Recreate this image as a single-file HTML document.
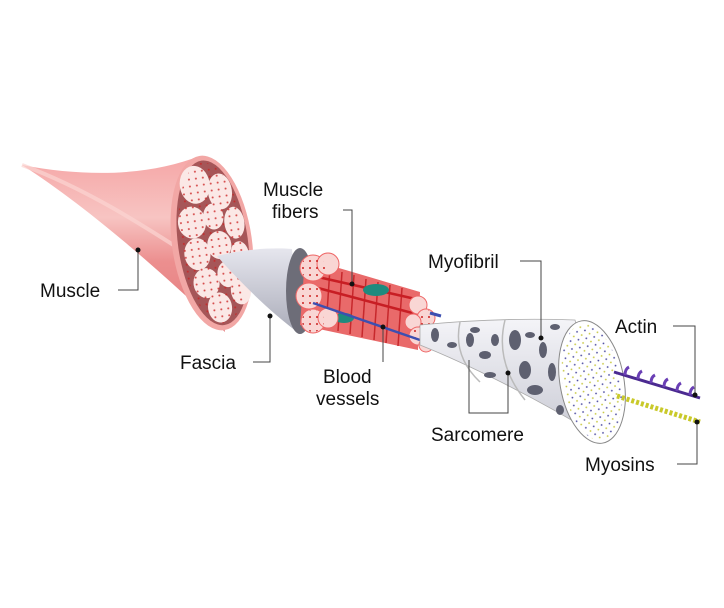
<!DOCTYPE html>
<html><head><meta charset="utf-8"><style>
html,body{margin:0;padding:0;background:#fff}
svg{display:block}
text{font-family:"Liberation Sans",sans-serif;font-size:19px;fill:#111}
</style></head><body>
<svg width="724" height="608" viewBox="0 0 724 608" xmlns="http://www.w3.org/2000/svg">
<defs>
<linearGradient id="mg" x1="0" y1="0" x2="0" y2="1">
<stop offset="0" stop-color="#f6a6a6"/><stop offset="0.35" stop-color="#f7c4c2"/><stop offset="0.6" stop-color="#ec8f8f"/><stop offset="1" stop-color="#e27b7c"/></linearGradient>
<linearGradient id="fg" x1="0" y1="0" x2="0" y2="1">
<stop offset="0" stop-color="#e6e6ee"/><stop offset="1" stop-color="#a9abb8"/></linearGradient>
<linearGradient id="cg" x1="0" y1="0" x2="0" y2="1">
<stop offset="0" stop-color="#f4f4f8"/><stop offset="1" stop-color="#c8c9d3"/></linearGradient>
<pattern id="dots" width="7" height="7" patternUnits="userSpaceOnUse"><circle cx="2" cy="2" r="1" fill="#c22"/></pattern>
<pattern id="md" width="8" height="8" patternUnits="userSpaceOnUse"><circle cx="2" cy="2" r="0.9" fill="#4a4aa0"/><circle cx="6" cy="6" r="0.9" fill="#c8c840"/></pattern>
</defs>

<!-- Muscle -->
<path d="M22,165 C90,178 150,175 200,156 L225,332 C180,290 100,215 22,165 Z" fill="url(#mg)"/>
<path d="M22,165 C90,190 150,230 200,262" stroke="#fbd4d2" stroke-width="4" fill="none" opacity="0.7"/>
<g transform="rotate(-8 212 243)">
<ellipse cx="212" cy="243" rx="40" ry="88" fill="#f2a7a5"/>
<ellipse cx="213" cy="243" rx="35" ry="83" fill="#a65658"/>
<g fill="#fbe8e6">
<ellipse cx="203" cy="183" rx="15" ry="19"/><ellipse cx="227" cy="193" rx="12" ry="18"/>
<ellipse cx="195" cy="220" rx="14" ry="16"/><ellipse cx="217" cy="217" rx="10" ry="13"/><ellipse cx="237" cy="226" rx="10" ry="16"/>
<ellipse cx="196" cy="252" rx="13" ry="16"/><ellipse cx="219" cy="246" rx="12" ry="14"/><ellipse cx="238" cy="258" rx="9" ry="13"/>
<ellipse cx="201" cy="282" rx="13" ry="15"/><ellipse cx="223" cy="276" rx="10" ry="13"/><ellipse cx="234" cy="294" rx="10" ry="14"/>
<ellipse cx="211" cy="308" rx="12" ry="15"/>
</g>
<ellipse cx="213" cy="243" rx="33" ry="81" fill="url(#dots)" opacity="0.8"/>
</g>

<!-- Fascia cone -->
<path d="M217,256 C240,250 270,247 292,249 L300,334 C270,312 240,282 217,256 Z" fill="url(#fg)"/>
<ellipse cx="300" cy="291" rx="14" ry="43" fill="#6d6d78"/>

<!-- Fiber bundle -->
<path d="M305,258 L420,292 L418,350 L300,325 Z" fill="#e96a6a"/>
<g stroke="#c7282c" stroke-width="1.5">
<line x1="330" y1="268" x2="326" y2="328"/><line x1="342" y1="272" x2="338" y2="331"/><line x1="354" y1="275" x2="350" y2="334"/>
<line x1="366" y1="279" x2="362" y2="337"/><line x1="378" y1="282" x2="374" y2="340"/><line x1="390" y1="285" x2="386" y2="343"/><line x1="402" y1="288" x2="398" y2="346"/>
</g>
<path d="M318,277 L420,300 M318,288 L420,315" stroke="#c81e24" stroke-width="2.5"/>
<ellipse cx="376" cy="290" rx="13" ry="6" fill="#1f8a7e"/>
<ellipse cx="344" cy="318" rx="10" ry="5" fill="#1f8a7e"/>
<g fill="#f9d6d4" stroke="#e66" stroke-width="1">
<circle cx="313" cy="268" r="13"/><circle cx="328" cy="264" r="11"/><circle cx="309" cy="296" r="13"/><circle cx="313" cy="321" r="12"/><circle cx="328" cy="318" r="10"/>
<circle cx="418" cy="305" r="9"/><circle cx="426" cy="318" r="9"/><circle cx="413" cy="322" r="8"/><circle cx="418" cy="336" r="9"/><circle cx="426" cy="345" r="7"/>
</g>
<g fill="url(#dots)"><circle cx="313" cy="268" r="12"/><circle cx="309" cy="296" r="12"/><circle cx="313" cy="321" r="11"/><circle cx="426" cy="318" r="8"/><circle cx="418" cy="336" r="8"/></g>
<path d="M313,303 L420,340" stroke="#3d4fb0" stroke-width="2.5"/>
<path d="M430,313 L441,316" stroke="#3d4fb0" stroke-width="3"/>

<!-- Myofibril cone -->
<path d="M420,325 C470,320 520,318 575,320 L605,440 C540,400 470,365 420,345 Z" fill="url(#cg)" stroke="#aaa" stroke-width="0.8"/>
<path d="M460,322 C455,345 462,365 480,382 M505,320 C498,348 505,375 525,400" stroke="#bbb" stroke-width="1.5" fill="none"/>
<g fill="#5e6070">
<ellipse cx="435" cy="335" rx="4" ry="7"/><ellipse cx="452" cy="345" rx="5" ry="3"/><ellipse cx="470" cy="340" rx="4" ry="7"/>
<ellipse cx="485" cy="355" rx="6" ry="4"/><ellipse cx="475" cy="330" rx="5" ry="3"/><ellipse cx="495" cy="340" rx="4" ry="6"/>
<ellipse cx="490" cy="375" rx="6" ry="3"/><ellipse cx="515" cy="340" rx="6" ry="10"/><ellipse cx="530" cy="335" rx="5" ry="3"/>
<ellipse cx="525" cy="370" rx="6" ry="9"/><ellipse cx="543" cy="350" rx="4" ry="8"/><ellipse cx="535" cy="390" rx="8" ry="5"/>
<ellipse cx="552" cy="372" rx="4" ry="9"/><ellipse cx="555" cy="327" rx="5" ry="3"/><ellipse cx="560" cy="410" rx="4" ry="5"/>
</g>
<g transform="rotate(-10 592 382)">
<ellipse cx="592" cy="382" rx="32" ry="62" fill="#fff" stroke="#888" stroke-width="1"/>
<ellipse cx="592" cy="382" rx="29" ry="59" fill="url(#md)"/>
</g>

<!-- Actin / Myosin -->
<path d="M614,372 L700,398" stroke="#4b2a90" stroke-width="3"/>
<g stroke="#6a3fb5" stroke-width="3" fill="none">
<path d="M625,375 q0,-6 4,-8"/><path d="M638,379 q0,-6 4,-8"/><path d="M651,383 q0,-6 4,-8"/><path d="M664,387 q0,-6 4,-8"/><path d="M677,391 q0,-6 4,-8"/><path d="M690,395 q0,-6 4,-8"/>
</g>
<path d="M617,396 L700,422" stroke="#c9c92a" stroke-width="5" stroke-dasharray="3,2"/>

<!-- Leaders -->
<g stroke="#444" stroke-width="1" fill="none">
<path d="M118,290 H138 V250"/>
<path d="M343,210 H352 V284"/>
<path d="M253,362 H270 V316"/>
<path d="M383,327 V362"/>
<path d="M520,261 H541 V338"/>
<path d="M469,360 V413 H508 V373"/>
<path d="M673,326 H695 V395"/>
<path d="M677,464 H697 V422"/>
</g>
<g fill="#111">
<circle cx="138" cy="250" r="2.5"/><circle cx="352" cy="284" r="2.5"/><circle cx="270" cy="316" r="2.5"/><circle cx="383" cy="327" r="2.5"/>
<circle cx="541" cy="338" r="2.5"/><circle cx="508" cy="373" r="2.5"/><circle cx="695" cy="395" r="2.5"/><circle cx="697" cy="422" r="2.5"/>
</g>

<text x="40" y="297">Muscle</text>
<text x="263" y="196">Muscle</text>
<text x="272" y="218">fibers</text>
<text x="180" y="369">Fascia</text>
<text x="323" y="383">Blood</text>
<text x="316" y="405">vessels</text>
<text x="428" y="268">Myofibril</text>
<text x="431" y="441">Sarcomere</text>
<text x="615" y="333">Actin</text>
<text x="585" y="471">Myosins</text>
</svg>
</body></html>
